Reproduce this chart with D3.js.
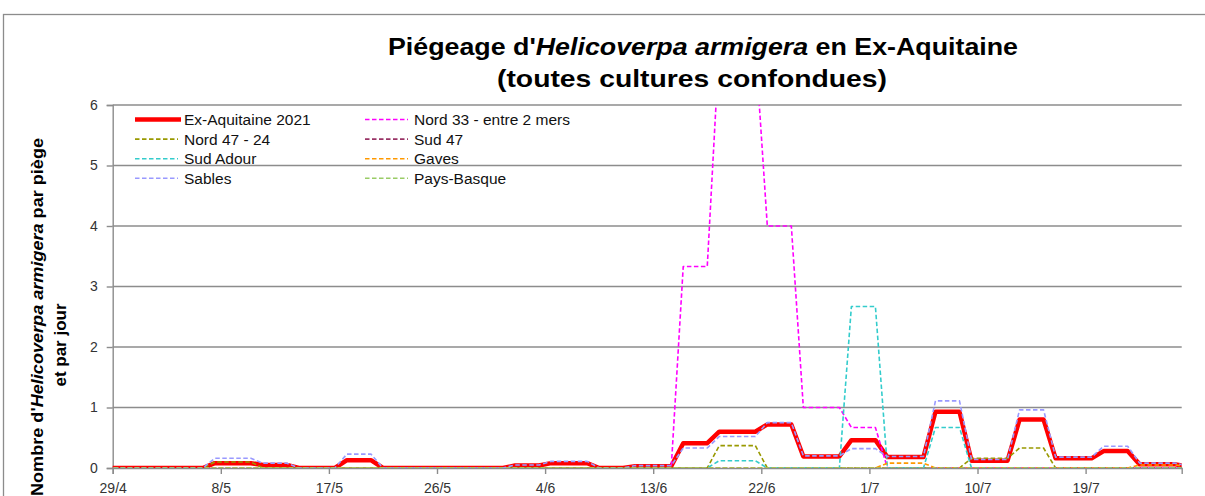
<!DOCTYPE html>
<html>
<head>
<meta charset="utf-8">
<script src="https://cdn.jsdelivr.net/npm/d3@7/dist/d3.min.js"></script>
<style>
  body { margin: 0; background: #fff; }
  svg { display: block; font-family: "Liberation Sans", Arial, sans-serif; }
</style>
</head>
<body>
<div id="chart"></div>
<script>
// x axis labels (every 9 days)
const tickLabels = ["29/4", "8/5", "17/5", "26/5", "4/6", "13/6", "22/6", "1/7", "10/7", "19/7"];
const firstReading = "28/4";   // daily readings, 28/4 -> 27/7
const lastDay = "27/7";

const seriesNames = ["Ex-Aquitaine 2021", "Nord 33 - entre 2 mers", "Nord 47 - 24", "Sud 47",
                     "Sud Adour", "Gaves", "Sables", "Pays-Basque"];
const seriesColors = ["#ff0000", "#ff00ff", "#999900", "#993366", "#33cccc", "#ff9900", "#9999ff", "#99cc66"];

const exAquitaine = [0,0,0,0,0,0,0,0,0, 0.08,0.08,0.08,0.08, 0.05,0.05,0.05, 0,0,0,0, 0.13,0.13,0.13,
  0,0,0,0,0,0,0,0,0,0,0, 0.04,0.04,0.04, 0.08,0.08,0.08,0.08, 0,0,0, 0.03,0.03,0.03,0.03,
  0.41,0.41,0.41, 0.60,0.60,0.60,0.60, 0.72,0.72,0.72, 0.19,0.19,0.19,0.19, 0.46,0.46,0.46,
  0.18,0.18,0.18,0.18, 0.93,0.93,0.93, 0.12,0.12,0.12,0.12, 0.80,0.80,0.80, 0.16,0.16,0.16,0.16,
  0.28,0.28,0.28, 0.06,0.06,0.06,0.06, 0.02];
const nord33 = [0,0,0,0,0,0,0,0,0,0,0,0,0,0,0,0,0,0,0,0,0,0,0,0,0,0,0,0,0,0,0,0,0,0,0,0,0,0,0,0,
  0,0,0,0,0,0,0,0, 3.33,3.33,3.33, 7,7,7,7, 4,4,4, 1,1,1,1, 0.67,0.67,0.67,
  0,0,0,0,0,0,0,0,0,0,0,0,0,0,0,0,0,0,0,0,0,0,0,0,0,0];
const nord4724 = [0,0,0,0,0,0,0,0,0, 0.1,0.1,0.1,0.1,
  0,0,0,0,0,0,0,0,0,0,0,0,0,0,0,0,0,0,0,0,0,0,0,0,0,0,0,0,0,0,0,0,0,0,0,0,0,0,
  0.37,0.37,0.37,0.37, 0,0,0,0,0,0,0,0,0,0,0,0,0,0,0,0,0,
  0.16,0.16,0.16,0.16, 0.33,0.33,0.33, 0,0,0,0,0,0,0,0,0,0,0,0];
const sud47 = [0,0,0,0,0,0,0,0,0,0,0,0,0,0,0,0,0,0,0,0,0,0,0,0,0,0,0,0,0,0,0,0,0,0,0,0,0,0,0,0,
  0,0,0,0,0,0,0,0,0,0,0,0,0,0,0,0,0,0,0,0,0,0,0,0,0,0,0,0,0,0,0,0,0,0,0,0,0,0,0,0,
  0,0,0,0,0,0,0,0,0,0,0];
const sudAdour = [0,0,0,0,0,0,0,0,0,0,0,0,0,0,0,0,0,0,0,0,0,0,0,0,0,0,0,0,0,0,0,0,0,0,0,0,0,0,0,0,
  0,0,0,0,0,0,0,0,0,0,0, 0.12,0.12,0.12,0.12, 0,0,0,0,0,0,0, 2.67,2.67,2.67, 0,0,0,0,
  0.67,0.67,0.67, 0,0,0,0,0,0,0,0,0,0,0,0,0,0,0,0,0,0,0];
const gaves = [0,0,0,0,0,0,0,0,0,0,0,0,0,0,0,0,0,0,0,0,0,0,0,0,0,0,0,0,0,0,0,0,0,0,0,0,0,0,0,0,
  0,0,0,0,0,0,0,0,0,0,0,0,0,0,0,0,0,0,0,0,0,0,0,0,0, 0.08,0.08,0.08,0.08,
  0,0,0,0,0,0,0,0,0,0,0,0,0,0,0,0,0, 0.05,0.05,0.05,0.05, 0.02];
const sables = [0,0,0,0,0,0,0,0,0, 0.16,0.16,0.16,0.16, 0.08,0.08,0.08, 0,0,0,0, 0.23,0.23,0.23,
  0,0,0,0,0,0,0,0,0,0,0, 0.05,0.05,0.05, 0.11,0.11,0.11,0.11, 0,0,0, 0.04,0.04,0.04,0.04,
  0.33,0.33,0.33, 0.52,0.52,0.52,0.52, 0.75,0.75,0.75, 0.20,0.20,0.20,0.20, 0.32,0.32,0.32,
  0.19,0.19,0.19,0.19, 1.11,1.11,1.11, 0.14,0.14,0.14,0.14, 0.96,0.96,0.96, 0.18,0.18,0.18,0.18,
  0.36,0.36,0.36, 0.08,0.08,0.08,0.08, 0.03];
const paysBasque = [0,0,0,0,0,0,0,0,0,0,0,0,0,0,0,0,0,0,0,0,0,0,0,0,0,0,0,0,0,0,0,0,0,0,0,0,0,0,0,0,
  0,0,0,0,0,0,0,0,0,0,0,0,0,0,0,0,0,0,0,0,0,0,0,0,0,0,0,0,0,0,0,0,0,0,0,0,0,0,0,0,
  0,0,0,0,0,0,0,0,0,0,0];

const seriesValues = [exAquitaine, nord33, nord4724, sud47, sudAdour, gaves, sables, paysBasque];

const width = 1205, height = 496;
const plot = { left: 112.7, right: 1181.7, top: 105, bottom: 468 };
const parseDay = d3.timeParse("%d/%m/%Y");
const toDate = s => parseDay(s + "/2021");

// readings are taken at midday
const start = toDate(firstReading);
const dates = exAquitaine.map((v, i) => d3.timeHour.offset(d3.timeDay.offset(start, i), 12));
const tickDates = tickLabels.map(toDate);

const x = d3.scaleTime()
    .domain([toDate(tickLabels[0]), toDate(lastDay)])
    .range([plot.left, plot.right]);
const y = d3.scaleLinear().domain([0, 6]).range([plot.bottom, plot.top]);

const svg = d3.select("#chart").append("svg")
    .attr("width", width)
    .attr("height", height);

// chart frame
svg.append("rect")
    .attr("x", 3.5).attr("y", 14.5)
    .attr("width", width + 10).attr("height", height)
    .attr("fill", "none").attr("stroke", "#8c8c8c").attr("stroke-width", 1.3);

// title
const title = svg.append("g")
    .attr("font-weight", "bold")
    .attr("font-size", 24)
    .attr("text-anchor", "middle")
    .attr("fill", "#000");
const t1 = title.append("text").attr("x", 703).attr("y", 55)
    .attr("textLength", 630).attr("lengthAdjust", "spacingAndGlyphs");
t1.append("tspan").text("Piégeage d'");
t1.append("tspan").attr("font-style", "italic").text("Helicoverpa armigera");
t1.append("tspan").text(" en Ex-Aquitaine");
title.append("text").attr("x", 692).attr("y", 87)
    .attr("textLength", 390).attr("lengthAdjust", "spacingAndGlyphs")
    .text("(toutes cultures confondues)");

// gridlines
svg.append("g")
    .selectAll("line")
    .data(d3.range(1, 7))
    .join("line")
    .attr("x1", plot.left).attr("x2", plot.right)
    .attr("y1", d => y(d)).attr("y2", d => y(d))
    .attr("stroke", "#8c8c8c").attr("stroke-width", 1.4);

// axes
const yAxis = svg.append("g")
    .attr("transform", `translate(${plot.left},0)`)
    .call(d3.axisLeft(y).tickValues(d3.range(0, 7)).tickSize(6).tickPadding(9).tickFormat(d3.format("d")));
const xAxis = svg.append("g")
    .attr("transform", `translate(0,${plot.bottom})`)
    .call(d3.axisBottom(x).tickValues(tickDates).tickSize(6).tickPadding(9)
        .tickFormat((d, i) => tickLabels[i]));

[yAxis, xAxis].forEach(a => {
    a.select(".domain").attr("stroke", "#8c8c8c").attr("stroke-width", 1.4);
    a.selectAll(".tick line").attr("stroke", "#8c8c8c").attr("stroke-width", 1.4);
    a.selectAll(".tick text").attr("font-size", 14).attr("fill", "#333")
        .attr("font-family", "'Liberation Sans', Arial, sans-serif");
});

// y axis title
const yt = svg.append("g")
    .attr("transform", "translate(43,0) rotate(-90)")
    .attr("font-weight", "bold")
    .attr("font-size", 17)
    .attr("text-anchor", "middle");
const yl1 = yt.append("text").attr("x", -317).attr("y", 0)
    .attr("textLength", 358).attr("lengthAdjust", "spacingAndGlyphs");
yl1.append("tspan").text("Nombre d'");
yl1.append("tspan").attr("font-style", "italic").text("Helicoverpa armigera");
yl1.append("tspan").text(" par piège");
yt.append("text").attr("x", -345).attr("y", 23).text("et par jour");

// series
svg.append("clipPath").attr("id", "plot-clip")
    .append("rect")
    .attr("x", plot.left).attr("y", plot.top)
    .attr("width", plot.right - plot.left).attr("height", plot.bottom - plot.top);

const line = d3.line()
    .x(d => x(d.date))
    .y(d => y(d.value));

const series = seriesNames.map((name, i) => ({
    name,
    color: seriesColors[i],
    main: i === 0,
    points: seriesValues[i].map((v, j) => ({ date: dates[j], value: v }))
}));

svg.append("g")
    .attr("clip-path", "url(#plot-clip)")
    .selectAll("path")
    .data(series)
    .join("path")
    .attr("d", d => line(d.points))
    .attr("fill", "none")
    .attr("stroke", d => d.color)
    .attr("stroke-width", d => d.main ? 4.5 : 1.6)
    .attr("stroke-dasharray", d => d.main ? null : "4.5,2.5")
    .attr("stroke-linejoin", "round");

// legend (2 columns, filled row by row)
const legend = svg.append("g").attr("font-size", 15.5).attr("fill", "#111");
const item = legend.selectAll("g")
    .data(series)
    .join("g")
    .attr("transform", (d, i) => `translate(${i % 2 === 0 ? 135 : 365},${119.5 + Math.floor(i / 2) * 19.6})`);
item.append("line")
    .attr("x1", 0).attr("x2", d => d.main ? 46 : 43)
    .attr("stroke", d => d.color)
    .attr("stroke-width", d => d.main ? 4.5 : 1.6)
    .attr("stroke-dasharray", d => d.main ? null : "4.5,2.5");
item.append("text")
    .attr("x", 49)
    .attr("y", 5.5)
    .text(d => d.name);
</script>
</body>
</html>
